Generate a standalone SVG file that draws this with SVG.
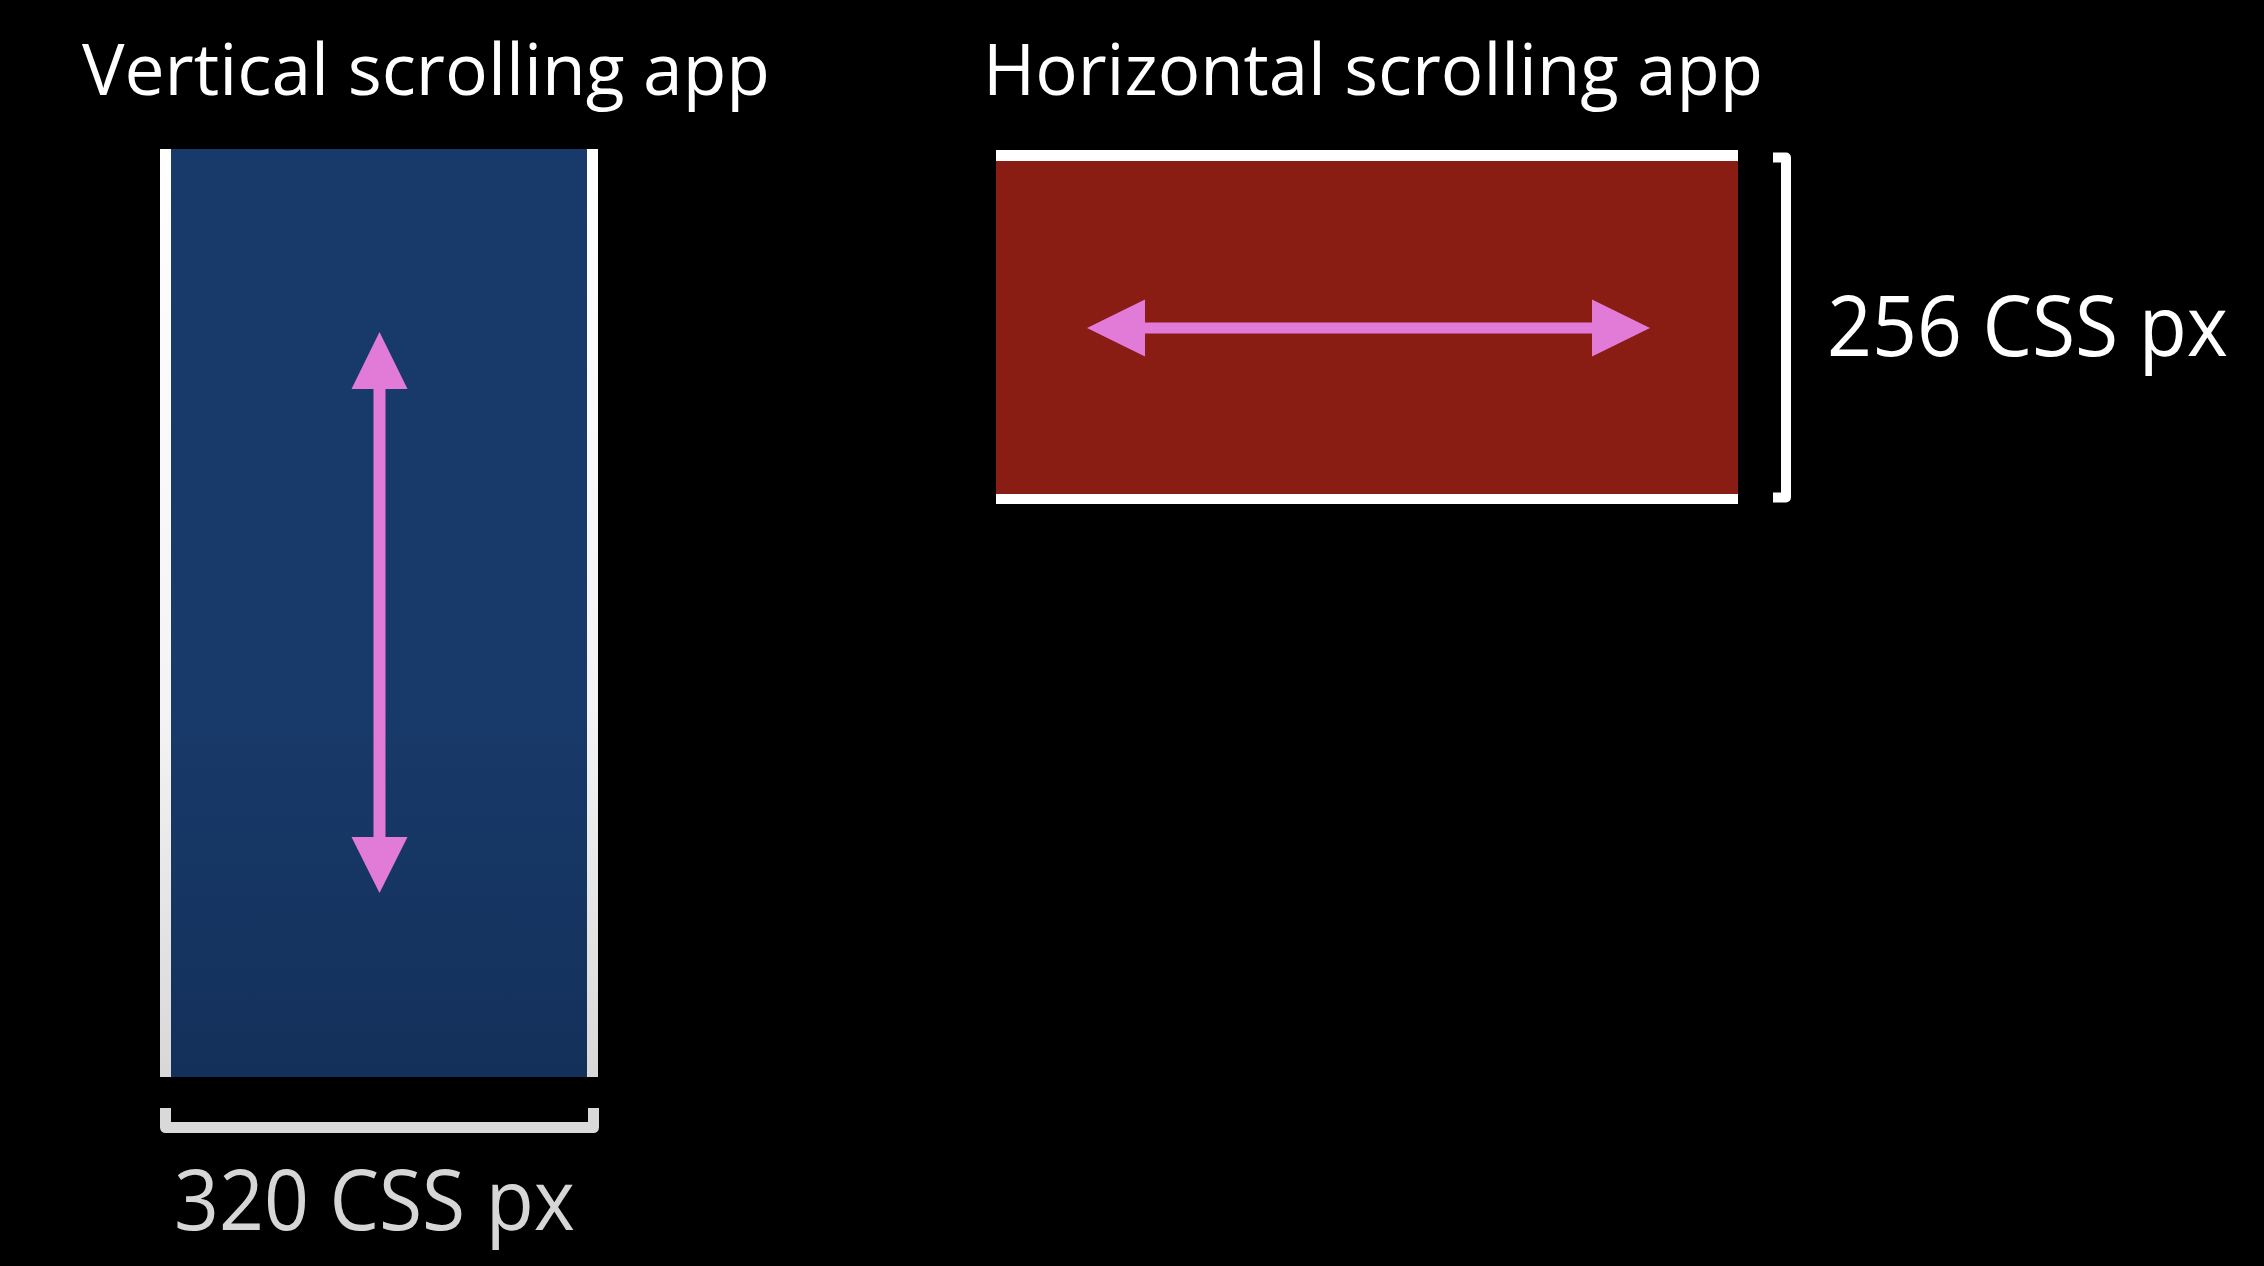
<svg xmlns="http://www.w3.org/2000/svg" width="2264" height="1266" viewBox="0 0 2264 1266">
<defs>
<style>
.title{font-family:"Open Sans","Liberation Sans",sans-serif;font-size:72px;fill:#ffffff}
.dim{font-family:"Open Sans","Liberation Sans",sans-serif;font-size:84px}
.arrow{fill:#e27ad8}
.bracket{fill:none;stroke-linejoin:round;stroke-linecap:butt}
</style>
<linearGradient id="blueGrad" x1="0" y1="0" x2="0" y2="1">
<stop offset="0" stop-color="#183a6a"/>
<stop offset="0.6" stop-color="#183a6a"/>
<stop offset="1" stop-color="#13305a"/>
</linearGradient>
<linearGradient id="barGrad" x1="0" y1="0" x2="0" y2="1">
<stop offset="0" stop-color="#ffffff"/>
<stop offset="0.6" stop-color="#f4f4f4"/>
<stop offset="1" stop-color="#d8d8d8"/>
</linearGradient>
</defs>
<rect x="0" y="0" width="2264" height="1266" fill="#000000"/>

<g id="vertical-app">
<text class="title" x="82" y="95" textLength="688" lengthAdjust="spacingAndGlyphs">Vertical scrolling app</text>
<rect x="171" y="149" width="416" height="928" fill="url(#blueGrad)"/>
<rect x="160" y="149" width="11" height="928" fill="url(#barGrad)"/>
<rect x="587" y="149" width="11" height="928" fill="url(#barGrad)"/>
</g>

<g id="horizontal-app">
<text class="title" x="983" y="95" textLength="780" lengthAdjust="spacingAndGlyphs">Horizontal scrolling app</text>
<rect x="996" y="161" width="742" height="333" fill="#8a1d13"/>
<rect x="996" y="150" width="742" height="11" fill="#ffffff"/>
<rect x="996" y="494" width="742" height="10" fill="#ffffff"/>
</g>

<g id="width-label">
<path class="bracket" d="M165.5 1108 V1127.5 H593.5 V1108" stroke="#d9d9d9" stroke-width="11"/>
<text class="dim" x="174" y="1230" fill="#d6d6d6" textLength="401" lengthAdjust="spacingAndGlyphs">320 CSS px</text>
</g>

<g id="height-label">
<path class="bracket" d="M1773 157.5 H1786 V497.5 H1773" stroke="#ffffff" stroke-width="10"/>
<text class="dim" x="1827" y="356" fill="#ffffff" textLength="401" lengthAdjust="spacingAndGlyphs">256 CSS px</text>
</g>

<g id="connectors">
<path class="arrow" d="M379.5 332 L407.5 389 L385.5 389 L385.5 837 L407.5 837 L379.5 893 L351.5 837 L373.5 837 L373.5 389 L351.5 389 Z"/>
<path class="arrow" d="M1087 328 L1145 299.5 L1145 322.5 L1592 322.5 L1592 299.5 L1650 328 L1592 356.5 L1592 333.5 L1145 333.5 L1145 356.5 Z"/>
</g>
</svg>
